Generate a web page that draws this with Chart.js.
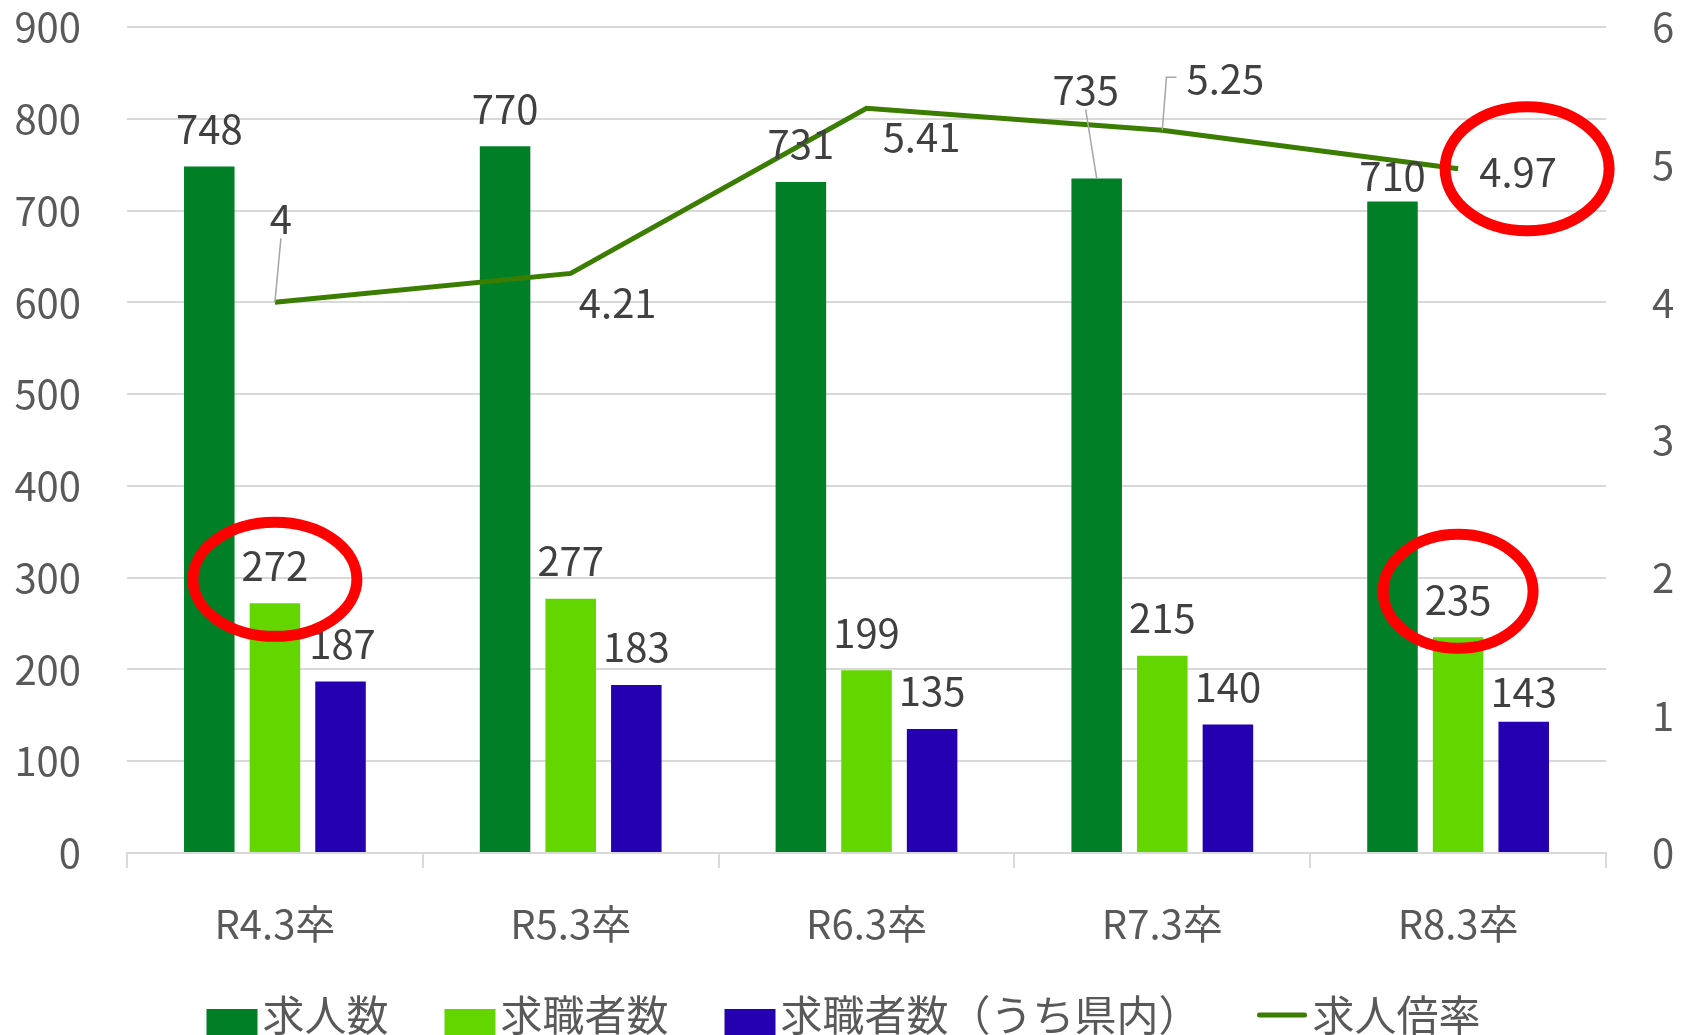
<!DOCTYPE html>
<html lang="ja">
<head>
<meta charset="utf-8">
<script src="https://cdn.jsdelivr.net/npm/chart.js@4.4.1/dist/chart.umd.min.js"></script>
<style>
  html, body { margin: 0; padding: 0; background: #fff; overflow: hidden; }
  #wrap { width: 1687px; height: 1035px; overflow: hidden; }
  canvas { display: block; }
</style>
</head>
<body>
<div id="wrap"><canvas id="chart" width="1687" height="1035"></canvas></div>
<script>
const categories = ['R4.3卒', 'R5.3卒', 'R6.3卒', 'R7.3卒', 'R8.3卒'];
const jobOffers = [748, 770, 731, 735, 710];        // 求人数
const jobSeekers = [272, 277, 199, 215, 235];       // 求職者数
const seekersInPref = [187, 183, 135, 140, 143];    // 求職者数（うち県内）
const offerRatio = [4, 4.21, 5.41, 5.25, 4.97];     // 求人倍率
const leftTicks = [0, 900, 100];
const rightTicks = [0, 6, 1];

const FONT = "'Noto Sans CJK JP', 'Noto Sans', sans-serif";

// label placement tweaks (the source chart had some labels dragged by hand)
const barLabelLift = [[0, 0, 0, 51, -12], [0, 0, 0, 0, 0], [0, 0, 0, 0, -8]];
const barLabelShiftX = [[0, 0, 0, -11, 0], [0, 0, 0, 0, 0], [2, 0, 0, 0, 0]];
const ratioLabelOffset = [[6, -84], [47, 29], [55, 29], [63, -51], [60, 3]];
const leaders = ['0-3', '3-0', '3-3'];
// red rings drawn over some labels
const rings = [
  { ds: 1, i: 0, dx: 0, dy: 14, rx: 82, ry: 57 },
  { ds: 3, i: 4, dx: 9, dy: -3, rx: 82, ry: 62 },
  { ds: 1, i: 4, dx: 0, dy: -8, rx: 75, ry: 57 }
];

function labelPos(chart, di, i) {
  const el = chart.getDatasetMeta(di).data[i];
  if (di === 3) {
    return { ax: el.x, ay: el.y, x: el.x + ratioLabelOffset[i][0], y: el.y + ratioLabelOffset[i][1] };
  }
  return { ax: el.x, ay: el.y, x: el.x + barLabelShiftX[di][i], y: el.y - 38 - barLabelLift[di][i] };
}

const valueLabels = {
  id: 'valueLabels',
  afterDatasetsDraw(chart) {
    const ctx = chart.ctx;
    ctx.save();
    ctx.font = '40px ' + FONT;
    ctx.textAlign = 'center';
    ctx.textBaseline = 'middle';
    chart.data.datasets.forEach((ds, di) => {
      ds.data.forEach((v, i) => {
        const p = labelPos(chart, di, i);
        const txt = String(v);
        const w = ctx.measureText(txt).width;
        if (leaders.includes(di + '-' + i)) {
          ctx.strokeStyle = '#a6a6a6';
          ctx.lineWidth = 1.5;
          ctx.beginPath();
          ctx.moveTo(p.ax, p.ay);
          if (Math.abs(p.x - p.ax) < w / 2) {
            ctx.lineTo(p.x, p.y + 20);
          } else {
            ctx.lineTo(p.x - w / 2 - 20, p.y - 2);
            ctx.lineTo(p.x - w / 2 - 10, p.y - 2);
          }
          ctx.stroke();
        }
        ctx.fillStyle = '#404040';
        ctx.fillText(txt, p.x, p.y);
      });
    });
    ctx.strokeStyle = '#ff0000';
    ctx.lineWidth = 11;
    rings.forEach(r => {
      const p = labelPos(chart, r.ds, r.i);
      ctx.beginPath();
      ctx.ellipse(p.x + r.dx, p.y + r.dy, r.rx, r.ry, 0, 0, Math.PI * 2);
      ctx.stroke();
    });
    ctx.restore();
  }
};

const bottomLegend = {
  id: 'bottomLegend',
  afterDraw(chart) {
    const ctx = chart.ctx;
    ctx.save();
    ctx.font = '42px ' + FONT;
    ctx.textBaseline = 'middle';
    ctx.textAlign = 'left';
    const markW = 51, gap = 5, spacing = 56;
    const items = chart.data.datasets.map(ds => ({
      text: ds.label,
      color: ds.type === 'line' ? ds.borderColor : ds.backgroundColor,
      line: ds.type === 'line'
    }));
    let total = 0;
    items.forEach(it => { it.w = markW + gap + ctx.measureText(it.text).width; total += it.w; });
    total += spacing * (items.length - 1);
    let x = (chart.width - total) / 2;
    const y = chart.scales.x.bottom + 62;
    items.forEach(it => {
      if (it.line) {
        ctx.strokeStyle = it.color;
        ctx.lineWidth = 5;
        ctx.lineCap = 'round';
        ctx.beginPath();
        ctx.moveTo(x + 3, y);
        ctx.lineTo(x + markW - 3, y);
        ctx.stroke();
      } else {
        ctx.fillStyle = it.color;
        ctx.fillRect(x, y - 6, markW, 30);
      }
      ctx.fillStyle = '#595959';
      ctx.fillText(it.text, x + markW + gap, y);
      x += it.w + spacing;
    });
    ctx.restore();
  }
};

const barCommon = { type: 'bar', yAxisID: 'y', order: 1, categoryPercentage: 0.6655, barPercentage: 0.77 };

function fixVertical(width) {
  return s => {
    s.width = width;
    s.paddingTop = 0;
    s.paddingBottom = 0;
  };
}

new Chart(document.getElementById('chart').getContext('2d'), {
  data: {
    labels: categories,
    datasets: [
      Object.assign({ label: '求人数', data: jobOffers, backgroundColor: '#007f26' }, barCommon),
      Object.assign({ label: '求職者数', data: jobSeekers, backgroundColor: '#63d600' }, barCommon),
      Object.assign({ label: '求職者数（うち県内）', data: seekersInPref, backgroundColor: '#2400b0' }, barCommon),
      {
        type: 'line', label: '求人倍率', data: offerRatio, yAxisID: 'y1', order: 0,
        borderColor: '#3b7d00', backgroundColor: '#3b7d00', borderWidth: 5,
        pointRadius: 0, tension: 0, fill: false
      }
    ]
  },
  options: {
    responsive: false,
    animation: false,
    layout: { padding: { top: 27, bottom: 82, left: 0, right: 0 } },
    plugins: { legend: { display: false }, tooltip: { enabled: false } },
    scales: {
      x: {
        grid: { display: true, drawOnChartArea: false, drawTicks: true, tickLength: 15, offset: true, color: '#d9d9d9', lineWidth: 2 },
        border: { display: true, color: '#d9d9d9', width: 2 },
        ticks: { color: '#595959', font: { family: FONT, size: 40 }, padding: 32, maxRotation: 0 },
        afterFit: s => { s.height = 100; s.paddingLeft = 0; s.paddingRight = 0; }
      },
      y: {
        position: 'left', min: leftTicks[0], max: leftTicks[1],
        grid: { color: '#d9d9d9', lineWidth: 2, drawTicks: false },
        border: { display: false },
        ticks: { stepSize: leftTicks[2], color: '#595959', font: { family: FONT, size: 40 }, padding: 46 },
        afterFit: fixVertical(127)
      },
      y1: {
        position: 'right', min: rightTicks[0], max: rightTicks[1],
        grid: { display: false, drawTicks: false },
        border: { display: false },
        ticks: { stepSize: rightTicks[2], color: '#595959', font: { family: FONT, size: 40 }, padding: 46 },
        afterFit: fixVertical(81)
      }
    }
  },
  plugins: [valueLabels, bottomLegend]
});
</script>
</body>
</html>
